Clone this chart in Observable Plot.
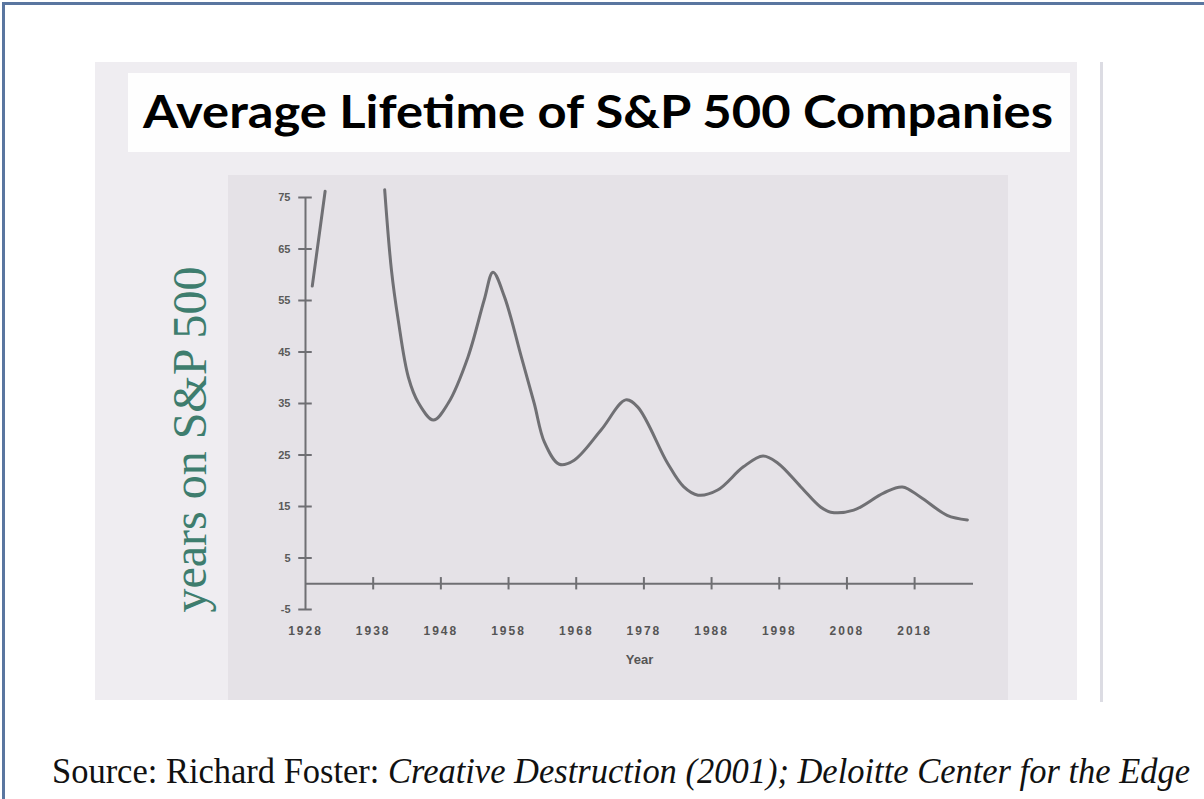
<!DOCTYPE html>
<html><head><meta charset="utf-8">
<script src="https://cdn.jsdelivr.net/npm/d3@7"></script>
<script src="https://cdn.jsdelivr.net/npm/@observablehq/plot@0.6"></script>
<style>
html,body{margin:0;padding:0;background:#fff;}
#page{position:relative;width:1204px;height:799px;overflow:hidden;background:#fff;}
.abs{position:absolute;}
#border{left:2px;top:2px;width:1220px;height:820px;border-left:3px solid #5a76a0;border-top:3px solid #5a76a0;}
#outer{left:95px;top:62px;width:982px;height:638px;background:#efedf1;}
#titlebox{left:128px;top:73px;width:942px;height:79px;background:#fefefe;}
#inner{left:228px;top:175px;width:780px;height:525px;background:#e5e2e7;}
#vline{left:1100px;top:62px;width:3px;height:640px;background:#dcdce3;}
#title{left:143px;top:89px;font:bold 45px Lato, "Open Sans", sans-serif;line-height:45px;white-space:nowrap;color:#000;transform-origin:0 0;}
#chart{left:150px;top:150px;}
#caption{left:52px;top:753px;font:36px "Liberation Serif", serif;line-height:36px;white-space:nowrap;color:#111;transform-origin:0 0;}
.xlab text{letter-spacing:2px;}
</style>
</head><body>
<div id="page">
  <div class="abs" id="border"></div>
  <div class="abs" id="outer"></div>
  <div class="abs" id="titlebox"></div>
  <div class="abs" id="inner"></div>
  <div class="abs" id="vline"></div>
  <div class="abs" id="title">Average Lifetime of S&amp;P 500 Companies</div>
  <div class="abs" id="chart"></div>
  <div class="abs" id="caption">Source: Richard Foster: <i>Creative Destruction (2001); Deloitte Center for the Edge</i></div>
</div>
<script>
// Data
const segAYears = [1929.0, 1930.9];
const segAValues = [57.8, 76.2];
const segBYears = [1939.7, 1940.7, 1941.7, 1943.2, 1944.7, 1946.9, 1949.1, 1952.0, 1954.4, 1955.7, 1957.4, 1959.9, 1961.8, 1963.3, 1965.5, 1967.7, 1971.7, 1975.3, 1977.1, 1981.5, 1983.9, 1986.0, 1988.9, 1992.7, 1995.6, 1997.8, 2001.2, 2004.1, 2005.6, 2009.0, 2013.4, 2016.2, 2018.9, 2022.8, 2025.8];
const segBValues = [76.5, 60.9, 51.2, 40.1, 35.1, 31.8, 35.1, 44.0, 55.1, 60.5, 55.7, 44.0, 35.0, 27.5, 23.2, 24.0, 29.9, 35.7, 34.3, 23.4, 18.8, 17.2, 18.2, 22.7, 24.8, 23.4, 18.8, 14.9, 13.9, 14.3, 17.6, 18.8, 16.8, 13.3, 12.4];
const xTicks = [1928, 1938, 1948, 1958, 1968, 1978, 1988, 1998, 2008, 2018];
const yTicks = [-5, 5, 15, 25, 35, 45, 55, 65, 75];
const yLabel = "years on S&P 500";
const xLabel = "Year";

const rows = [
  ...segAYears.map((y, i) => ({year: y, value: segAValues[i], seg: "A"})),
  ...segBYears.map((y, i) => ({year: y, value: segBValues[i], seg: "B"}))
];

const axisColor = "#6f6f73";
const chart = Plot.plot({
  width: 860, height: 550,
  marginLeft: 155, marginRight: 37, marginTop: 47, marginBottom: 91,
  style: {background: "transparent", overflow: "visible", fontFamily: "'Liberation Sans', sans-serif"},
  x: {domain: [1928, 2026.7], axis: null},
  y: {domain: [-5, 75], axis: null},
  marks: [
    Plot.ruleX([xTicks[0]], {stroke: axisColor, strokeWidth: 2}),
    Plot.ruleY([0], {stroke: axisColor, strokeWidth: 2}),
    Plot.ruleY(yTicks, {x1: 1927, x2: 1929, stroke: axisColor, strokeWidth: 2}),
    Plot.ruleX(xTicks.slice(1), {y1: -1.2, y2: 1.2, stroke: axisColor, strokeWidth: 2}),
    Plot.axisY({ticks: yTicks, tickSize: 0, tickPadding: 15, label: null, tickFormat: d => String(d), fontSize: 11, fontWeight: "bold", color: "#5a5a5a"}),
    Plot.axisX({ticks: xTicks, tickSize: 0, tickPadding: 17, label: null, tickFormat: d => String(d), fontSize: 12, fontWeight: "bold", color: "#555", className: "xlab"}),
    Plot.text([xLabel], {frameAnchor: "bottom", dy: 54, text: d => d, fontSize: 13, fontWeight: "bold", fill: "#555"}),
    Plot.text([yLabel], {frameAnchor: "left", textAnchor: "middle", text: d => d, rotate: -90, dx: -115, dy: 36, fontSize: 48, fontFamily: "'Liberation Serif', serif", fill: "#3e7d6e"}),
    Plot.line(rows, {x: "year", y: "value", z: "seg", curve: "catmull-rom", stroke: "#707074", strokeWidth: 3})
  ]
});
document.getElementById("chart").appendChild(chart);

function fit(id, target) {
  const el = document.getElementById(id);
  const w = el.getBoundingClientRect().width;
  el.style.transform = `scaleX(${target / w})`;
}
fit("title", 910);
fit("caption", 1138);
</script>
</body></html>
